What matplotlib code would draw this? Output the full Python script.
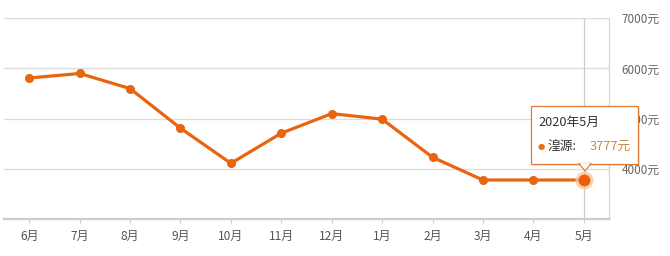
import matplotlib
matplotlib.use("Agg")
import matplotlib.pyplot as plt
from matplotlib.patches import FancyBboxPatch, Polygon

plt.rcParams['font.family'] = ['Noto Sans CJK SC', 'DejaVu Sans']

months = ['6月', '7月', '8月', '9月', '10月', '11月', '12月', '1月', '2月', '3月', '4月', '5月']
prices = [5810, 5900, 5600, 4810, 4110, 4710, 5100, 4990, 4230, 3777, 3777, 3777]
yticks = [4000, 5000, 6000, 7000]
ytick_labels = ['4000元', '5000元', '6000元', '7000元']
tip_title = '2020年5月'
tip_series = '湟源:'
tip_value = '3777元'

W, H = 670, 256
fig = plt.figure(figsize=(W / 100, H / 100), dpi=100)
left, right, top, bottom = 4, 609, 18.3, 219
ax = fig.add_axes([left / W, 1 - bottom / H, (right - left) / W, (bottom - top) / H])

line_c = '#E8650F'
x = list(range(len(months)))
ax.set_xlim(-0.5, len(months) - 0.5)
ax.set_ylim(3000, 7000)

for v in yticks:
    ax.axhline(v, color='#DCDCDC', lw=0.9, zorder=0)

# crosshair
ax.axvline(x[-1], ymin=0, ymax=1, color='#CCCCCC', lw=0.9, zorder=1)

ax.plot(x, prices, color=line_c, lw=2.3, marker='o', ms=5.5, mfc=line_c, mec=line_c, zorder=3,
        solid_capstyle='round')
# highlighted last point
ax.plot([x[-1]], [prices[-1]], 'o', ms=13, color='#F6C9A3', alpha=0.8, zorder=4, mec='none')
ax.plot([x[-1]], [prices[-1]], 'o', ms=8.5, color='#EE5F0A', zorder=5, mec='none')

for s in ['top', 'left']:
    ax.spines[s].set_visible(False)
ax.spines['bottom'].set_color('#CCCCCC')
ax.spines['bottom'].set_linewidth(1.6)
ax.spines['right'].set_color('#D6D6D6')
ax.spines['right'].set_linewidth(0.9)

ax.set_xticks(x)
ax.set_xticklabels(months)
ax.tick_params(axis='x', length=3, color='#CCCCCC', labelsize=8.6, labelcolor='#555555', pad=5)
ax.yaxis.tick_right()
ax.set_yticks(yticks)
ax.set_yticklabels(ytick_labels)
ax.tick_params(axis='y', length=0, labelsize=8.5, labelcolor='#666666', pad=9)

# tooltip in pixel coordinates
def px(xp, yp):
    return (xp / W, 1 - yp / H)

bx0, bx1, by0, by1 = 531, 638, 106, 164
shadow = FancyBboxPatch(px(bx0 + 1.5, by1 + 1.5), (bx1 - bx0) / W, (by1 - by0) / H,
                        boxstyle='square,pad=0', transform=fig.transFigure,
                        fc='#000000', alpha=0.08, ec='none', zorder=9)
fig.patches.append(shadow)
box = FancyBboxPatch(px(bx0, by1), (bx1 - bx0) / W, (by1 - by0) / H,
                     boxstyle='square,pad=0', transform=fig.transFigure,
                     fc='white', ec='#E07A30', lw=0.9, zorder=10)
fig.patches.append(box)
tri = Polygon([px(579, by1 - 0.5), px(591, by1 - 0.5), px(585, 171)], closed=True,
              transform=fig.transFigure, fc='white', ec='#E07A30', lw=0.9, zorder=11)
fig.patches.append(tri)
cover = Polygon([px(579.8, by1 - 0.9), px(590.2, by1 - 0.9), px(585, 169.5)], closed=True,
                transform=fig.transFigure, fc='white', ec='none', zorder=12)
fig.patches.append(cover)

fig.text(*px(538.5, 122), tip_title, fontsize=9.2, color='#333333', va='center', ha='left', zorder=13)
fig.text(*px(538, 147), '●', fontsize=6, color='#E8701A', va='center', ha='left', zorder=13,
         family=['DejaVu Sans'])
fig.text(*px(548, 147), tip_series, fontsize=9.2, color='#333333', va='center', ha='left', zorder=13)
fig.text(*px(590, 147), tip_value, fontsize=9.2, color='#C98A4B', va='center', ha='left', zorder=13)

fig.savefig('out.png', dpi=100)
